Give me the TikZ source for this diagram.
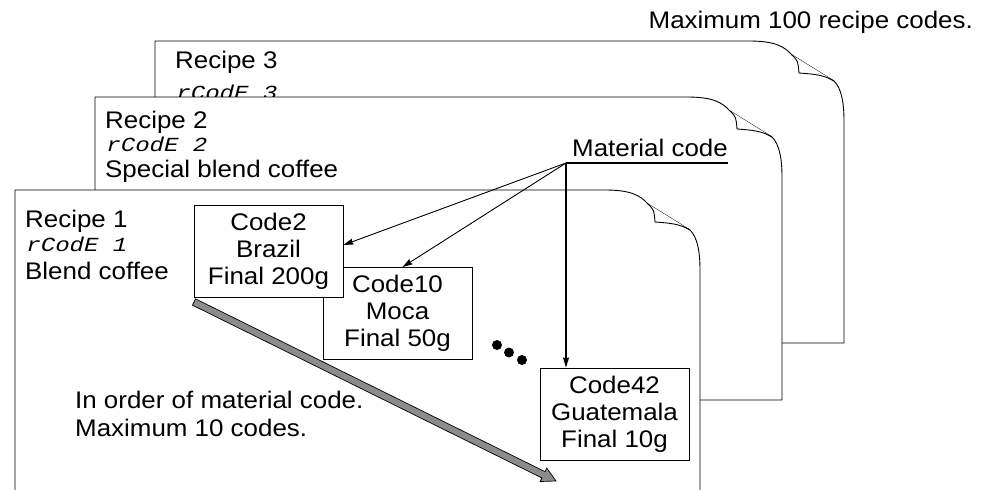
\documentclass[tikz,border=0pt]{standalone}
\usepackage{fontspec}
\setmainfont{Liberation Sans}[FakeStretch=1.08]
\newfontfamily\segfont{Liberation Mono}[FakeStretch=1.2,FakeSlant=0.25]
\usepackage{xcolor}
\usetikzlibrary{calc, positioning, arrows.meta}
\definecolor{arrowgray}{RGB}{140,140,140}

% page with curled corner: left, top, right, bottom
\newcommand{\recipepage}[4]{%
  \draw[page] (#1,#4) -- (#1,#2) -- (#3-95,#2)
    .. controls (#3-70,#2) and (#3-60,#2+5) .. (#3-52,#2+14)
    -- (#3-10,#2+40)
    .. controls (#3-3,#2+47) and (#3,#2+60) .. (#3,#2+80) -- (#3,#4) -- cycle;
  \draw[page] (#3-52,#2+14) .. controls (#3-46,#2+20) .. (#3-45,#2+32)
    .. controls (#3-30,#2+33) and (#3-20,#2+34) .. (#3-10,#2+40);
}

\begin{document}
\begin{tikzpicture}
              [x=1pt, y=-1pt,
               font=\fontsize{24}{27}\selectfont,
               page/.style={draw, fill=white, line width=0.9pt, line join=round},
               pagetext/.style={anchor=base west, inner sep=0pt},
               segcode/.style={pagetext, font=\segfont\fontsize{20}{20}\selectfont},
               codebox/.style={draw, fill=white, align=center, line width=0.9pt,
                 minimum width=149pt, minimum height=92pt, inner sep=0pt},
               pointer/.style={-{Stealth[length=10pt,width=6pt,inset=1pt]}, line width=0.9pt}]
              \useasboundingbox (0,0) rectangle (983,490);

              % pages %
              \node[anchor=base east, inner sep=0pt] (maxnote) at (973,28) {Maximum 100 recipe codes.};

              \recipepage{155}{41}{844}{343}
              \node[pagetext] (recipe3) at (175,68) {Recipe 3};
              \node[segcode] (rcode3) at (175,99) {rCodE 3};

              \recipepage{95}{97}{782}{400}
              \node[pagetext] (recipe2) at (105,128) {Recipe 2};
              \node[segcode] (rcode2) at (105,151) {rCodE 2};
              \node[pagetext] (name2) at (105,177) {Special blend coffee};

              \recipepage{15}{190}{700}{496}
              \node[pagetext] (recipe1) at (25,227) {Recipe 1};
              \node[segcode] (rcode1) at (25,251) {rCodE 1};
              \node[pagetext] (name1) at (25,279) {Blend coffee};

              % order arrow %
              \coordinate (gs) at (194,302);
              \coordinate (gt) at (556,481);
              \coordinate (gh) at ($(gt)!14pt!(gs)$);
              \filldraw[fill=arrowgray, line width=0.7pt]
                ($(gs)!3.5pt!90:(gt)$) -- ($(gh)!3.5pt!90:(gt)$) -- ($(gh)!7.5pt!90:(gt)$)
                -- (gt) -- ($(gh)!7.5pt!-90:(gt)$) -- ($(gh)!3.5pt!-90:(gt)$)
                -- ($(gs)!3.5pt!-90:(gt)$) -- cycle;
              \node[pagetext] (ordernote1) at (75,408) {In order of material code.};
              \node[pagetext] (ordernote2) at (75,436) {Maximum 10 codes.};

              % material boxes %
              \node[codebox] (code10) at (397.5,313.5) {Code10\\Moca\\Final 50g};
              \node[codebox] (code2) at (268.5,251) {Code2\\Brazil\\Final 200g};
              \node[codebox] (code42) at (614.5,414) {Code42\\Guatemala\\Final 10g};
              \fill (497,345) circle (5pt);
              \fill (509,352.5) circle (5pt);
              \fill (522,360) circle (5pt);

              % edges %
              \coordinate (hub) at (566,163);
              \node[anchor=base west, inner sep=0pt] (matl) at (572,156) {Material code};
              \draw[line width=1.5pt] (hub) -- (hub -| matl.east);
              \draw[pointer] (hub) -- ([yshift=6pt]code2.east);
              \draw[pointer] (hub) -- ([xshift=5pt]code10.north);
              \draw[pointer, line width=1.4pt] (hub) -- (hub |- code42.north);
            \end{tikzpicture}
\end{document}
